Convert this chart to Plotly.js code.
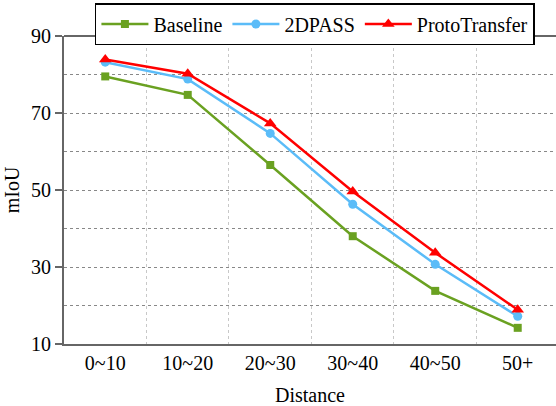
<!DOCTYPE html>
<html>
<head>
<meta charset="utf-8">
<script src="https://cdn.plot.ly/plotly-3.0.1.min.js"></script>
<style>html,body{margin:0;padding:0;background:#fff;}#chart{width:556px;height:406px;}</style>
</head>
<body>
<div id="chart"></div>
<script>
const categories = ["0~10", "10~20", "20~30", "30~40", "40~50", "50+"];
const baseline = [79.5, 74.7, 56.5, 38.0, 23.8, 14.2];
const dpass = [83.2, 78.8, 64.7, 46.3, 30.7, 17.2];
const proto = [83.9, 80.2, 67.3, 49.6, 33.7, 18.9];

const font = "Liberation Serif";

const traces = [
  {x: categories, y: baseline, name: "Baseline", type: "scatter", mode: "lines+markers",
   line: {color: "#6aa121", width: 2.5}, marker: {symbol: "square", size: 8, color: "#6aa121"}},
  {x: categories, y: dpass, name: "2DPASS", type: "scatter", mode: "lines+markers",
   line: {color: "#5bbcf8", width: 2.5}, marker: {symbol: "circle", size: 9, color: "#5bbcf8"}},
  {x: categories, y: proto, name: "ProtoTransfer", type: "scatter", mode: "lines+markers",
   line: {color: "#ff0000", width: 2.5}, marker: {symbol: "triangle-up", size: 11, color: "#ff0000"}}
];

const layout = {
  width: 556, height: 406,
  margin: {l: 64, r: 0, t: 36, b: 62},
  paper_bgcolor: "#fff", plot_bgcolor: "#fff",
  font: {family: font, size: 20, color: "#000"},
  showlegend: true,
  legend: {orientation: "h", x: 0.51, xanchor: "center", y: 1.107, yanchor: "top",
           bordercolor: "#000", borderwidth: 1.5, font: {family: font, size: 20, color: "#000"},
           itemwidth: 47, tracegroupgap: 0},
  xaxis: {
    type: "category", range: [-0.5, 5.464],
    showline: true, linecolor: "#666", linewidth: 2, mirror: false,
    tickson: "boundaries", ticks: "", showgrid: true,
    gridcolor: "#c8c8c8", griddash: "dot", gridwidth: 1,
    tickfont: {family: font, size: 20, color: "#000"}, ticklen: 0,
    title: {text: "Distance", font: {family: font, size: 20, color: "#000"}, standoff: 16},
    zeroline: false
  },
  yaxis: {
    range: [10, 90], tick0: 10, dtick: 20,
    showline: true, linecolor: "#666", linewidth: 2, mirror: false,
    ticks: "outside", ticklen: 7, tickwidth: 1.5, tickcolor: "#666",
    showgrid: true, gridcolor: "#888", griddash: "dot", gridwidth: 1,
    minor: {dtick: 10, tick0: 10, showgrid: true, gridcolor: "#888", griddash: "dot", gridwidth: 1, ticks: ""},
    tickfont: {family: font, size: 20, color: "#000"},
    title: {text: "mIoU", font: {family: font, size: 20, color: "#000"}, standoff: 6},
    zeroline: false
  },
  shapes: [
    {type: "line", xref: "paper", yref: "paper", x0: 0, x1: 1, y0: 1, y1: 1,
     line: {color: "#666", width: 2}}
  ]
};

Plotly.newPlot("chart", traces, layout, {displayModeBar: false, staticPlot: true});
</script>
</body>
</html>
